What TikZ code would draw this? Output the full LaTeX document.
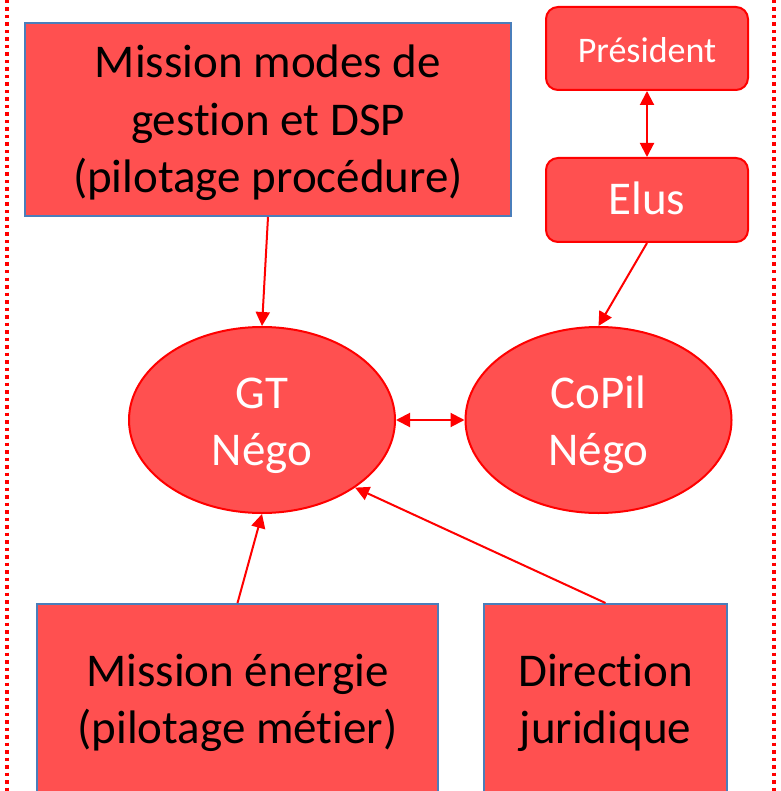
\documentclass[tikz,border=0pt]{standalone}
\usepackage{fontspec}
\setmainfont{Carlito}[Ligatures=NoCommon]
\usetikzlibrary{shapes.geometric,arrows.meta}
\definecolor{boxfill}{RGB}{255,80,80}
\definecolor{boxblue}{RGB}{74,126,187}
\definecolor{linered}{RGB}{255,0,0}
\begin{document}
\begin{tikzpicture}[x=1pt,y=-1pt,
  sqbox/.style={rectangle,draw=boxblue,fill=boxfill,line width=2pt,inner sep=0pt,align=center,text=black,font=\fontsize{47}{57.5}\selectfont},
  rbox/.style={rectangle,rounded corners=12pt,draw=linered,fill=boxfill,line width=2pt,inner sep=0pt,align=center,text=white,minimum width=202pt},
  ell/.style={ellipse,draw=linered,fill=boxfill,line width=2pt,inner sep=0pt,align=center,text=white,minimum width=266pt,minimum height=186pt,font=\fontsize{47}{57}\selectfont,text height=100pt,text depth=10pt},
  conn/.style={draw=linered,line width=2pt,-{Triangle[length=14pt,width=14pt]}},
  conn2/.style={draw=linered,line width=2pt,{Triangle[length=14pt,width=14pt]}-{Triangle[length=14pt,width=14pt]}}
]
\useasboundingbox (0,0) rectangle (780,791);
\draw[linered,line width=3.5pt,dash pattern=on 3.5pt off 4pt] (7,0) -- (7,791);
\draw[linered,line width=3.5pt,dash pattern=on 3.5pt off 4pt] (774,0) -- (774,791);

\node[sqbox,minimum width=486pt,minimum height=193pt,text height=157pt,text depth=10pt] (mm) at (268,119.5) {Mission modes de\\gestion et DSP\\(pilotage procédure)};
\node[rbox,minimum height=83pt,font=\fontsize{36}{42}\selectfont,text height=35pt,text depth=7.4pt] (pres) at (647,48.5) {Président};
\node[rbox,minimum height=84pt,font=\fontsize{47}{52}\selectfont,text height=40pt,text depth=10pt] (elus) at (647,200) {Elus};
\node[ell] (gt) at (262,420) {GT\\Négo};
\node[ell] (cp) at (598.5,420) {CoPil\\Négo};
\node[sqbox,minimum width=401pt,minimum height=193pt,text height=96pt,text depth=10pt] (me) at (237.5,700.5) {Mission énergie\\(pilotage métier)};
\node[sqbox,minimum width=243pt,minimum height=193pt,text height=96pt,text depth=10pt] (dj) at (605.5,700.5) {Direction\\juridique};

\draw[conn] (mm.south) -- (gt.north);
\draw[conn] (elus.south) -- (cp.north);
\draw[conn2] (pres.south) -- (elus.north);
\draw[conn2] (gt.east) -- (cp.west);
\draw[conn] (me.north) -- (gt.south);
\draw[conn] (dj.north) -- (gt.-36);
\end{tikzpicture}
\end{document}
